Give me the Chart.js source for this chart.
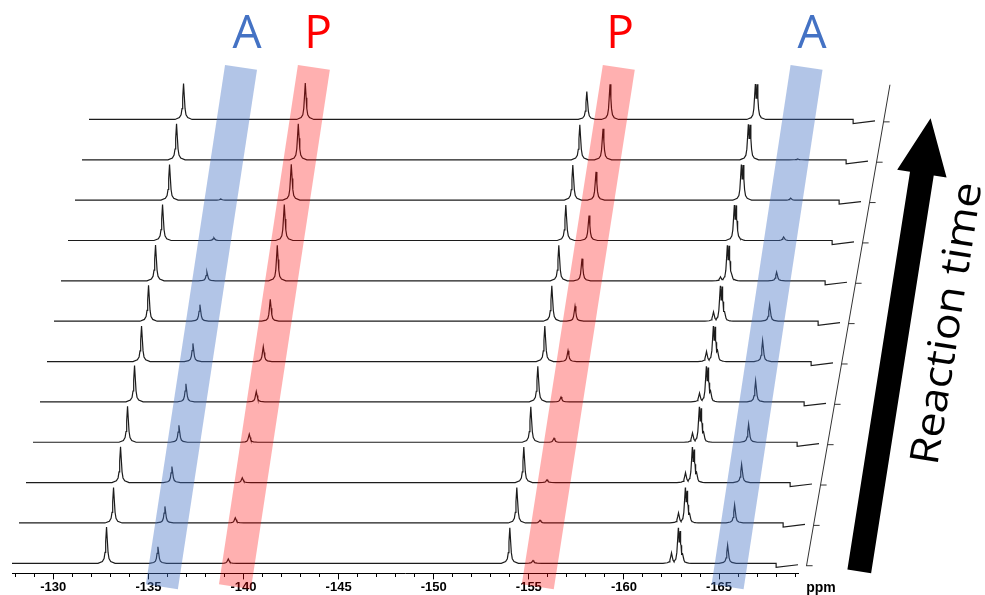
<!DOCTYPE html>
<html>
<head>
<meta charset="utf-8">
<script src="https://cdn.jsdelivr.net/npm/chart.js@4.4.0/dist/chart.umd.min.js"></script>
<style>
  html, body { margin: 0; padding: 0; background: #fff; }
  #wrap { width: 985px; height: 595px; }
</style>
</head>
<body>
<div id="wrap"><canvas id="nmr" width="985" height="595"></canvas></div>
<script>
// spectra stacked in order of reaction time, bottom (first) to top (last)
const traceCount = 12;
const ppmStart = -127.83;
const ppmEnd = -169.15;
const ppmStep = -168.0;      // little baseline step at the right end of each spectrum
const traceShift = 0.368;    // ppm each spectrum is pushed right per row

// peaks: chemical shift (ppm) and height of each peak in every spectrum (row units)
const peakShifts = [-132.8, -135.5, -139.2, -154.0, -155.22, -162.5, -162.86, -162.95, -163.08, -165.45];
const hF1 = [0.90, 0.88, 0.89, 0.89, 0.90, 0.88, 0.89, 0.89, 0.89, 0.88, 0.89, 0.89];
const hA1 = [0.41, 0.41, 0.40, 0.42, 0.45, 0.45, 0.41, 0.22, 0.07, 0.03, 0, 0];
const hP1 = [0.11, 0.13, 0.12, 0.20, 0.26, 0.37, 0.54, 0.88, 0.89, 0.89, 0.89, 0.90];
const hF2 = [0.88, 0.88, 0.88, 0.88, 0.88, 0.88, 0.88, 0.88, 0.88, 0.87, 0.87, 0.69];
const hP2 = [0.07, 0.07, 0.07, 0.10, 0.12, 0.27, 0.37, 0.55, 0.62, 0.70, 0.77, 0.87];
const hD  = [0.26, 0.25, 0.25, 0.23, 0.22, 0.25, 0.23, 0.10, 0, 0, 0, 0];
const hC1 = [0.88, 0.88, 0.88, 0.88, 0.88, 0.88, 0.88, 0.88, 0.88, 0.88, 0.88, 0.88];
const hC2 = [0.80, 0.80, 0.82, 0.84, 0.85, 0.86, 0.86, 0.87, 0.87, 0.87, 0.87, 0.87];
const hC3 = [0.24, 0.24, 0.26, 0.26, 0.28, 0.28, 0.24, 0.18, 0.10, 0, 0, 0];
const hA2 = [0.45, 0.45, 0.45, 0.45, 0.52, 0.52, 0.41, 0.22, 0.09, 0.05, 0.02, 0];
const peakHeights = [hF1, hA1, hP1, hF2, hP2, hD, hC1, hC2, hC3, hA2];

// x axis ticks
const axisTicks = [];
for (let v = -128; v >= -169; v--) axisTicks.push(v);
const majorTicks = [-130, -135, -140, -145, -150, -155, -160, -165];

// highlight bands: ppm of left edge at top and at bottom, labels
const bandLabels = ['A', 'P', 'P', 'A'];
const bandTopPpm = [-139.03, -142.86, -158.89, -168.76];
const bandBottomPpm = [-134.87, -138.71, -154.63, -164.61];
const bandLabelPpm = [-140.19, -143.92, -159.80, -169.89];
const bandColors = ['rgba(68,114,196,0.41)', 'rgba(255,0,0,0.31)', 'rgba(255,0,0,0.31)', 'rgba(68,114,196,0.41)'];
const labelColors = ['#4472C4', '#FF0000', '#FF0000', '#4472C4'];

// lineshape used for every peak: [distance in ppm, fraction of height]
const peakShape = [[0, 1], [0.045, 0.6], [0.08, 0.3], [0.13, 0.13], [0.22, 0.05], [0.45, 0]];

function shapeAt(d) {
    d = Math.abs(d);
    for (let i = 1; i < peakShape.length; i++) {
        if (d <= peakShape[i][0]) {
            const [d0, f0] = peakShape[i - 1];
            const [d1, f1] = peakShape[i];
            return f0 + (f1 - f0) * (d - d0) / (d1 - d0);
        }
    }
    return 0;
}

function buildTrace(k) {
    let xs = [ppmStart, ppmStep];
    peakShifts.forEach((p, j) => {
        if (peakHeights[j][k] <= 0) return;
        peakShape.forEach(([d]) => { xs.push(p - d); xs.push(p + d); });
    });
    xs = [...new Set(xs)].filter(x => x <= ppmStart && x >= ppmStep).sort((a, b) => b - a);
    const pts = xs.map(x => {
        let y = 0;
        peakShifts.forEach((p, j) => {
            const h = peakHeights[j][k];
            if (h > 0) y = Math.max(y, h * shapeAt(x - p));
        });
        return { x: x - traceShift * k, y: k + y };
    });
    pts.push({ x: ppmStep - traceShift * k, y: k - 0.1 });
    pts.push({ x: ppmEnd - traceShift * k, y: k - 0.035 });
    return pts;
}

const datasets = [];
for (let k = 0; k < traceCount; k++) {
    datasets.push({
        data: buildTrace(k),
        showLine: true,
        borderColor: '#1c1c1c',
        borderWidth: 1.2,
        pointRadius: 0,
        clip: false
    });
}

// slanted time axis on the right
const zAxisPpm = -169.62;
const zAxisRange = [-0.07, 11.86];
datasets.push({
    data: zAxisRange.map(y => ({ x: zAxisPpm - traceShift * y, y: y })),
    showLine: true, borderColor: '#333', borderWidth: 1, pointRadius: 0, clip: false
});
for (let k = 0; k < traceCount; k++) {
    const y = k - 0.06;
    const x0 = zAxisPpm - traceShift * y;
    datasets.push({
        data: [{ x: x0, y: y }, { x: x0 - 0.32, y: y }],
        showLine: true, borderColor: '#333', borderWidth: 1, pointRadius: 0, clip: false
    });
}

const decor = {
    id: 'decor',
    afterDraw(chart) {
        const { ctx, scales: { x, y } } = chart;
        const px = v => x.getPixelForValue(v);
        const py = v => y.getPixelForValue(v);
        ctx.save();
        // bands
        bandTopPpm.forEach((t, i) => {
            const b = bandBottomPpm[i];
            const w = 1.68;
            ctx.beginPath();
            ctx.moveTo(px(t), py(12.35));
            ctx.lineTo(px(t - w), py(12.23));
            ctx.lineTo(px(b - w), py(-0.64));
            ctx.lineTo(px(b), py(-0.52));
            ctx.closePath();
            ctx.fillStyle = bandColors[i];
            ctx.fill();
            ctx.fillStyle = labelColors[i];
            ctx.font = '46px "Open Sans"';
            ctx.textAlign = 'center';
            ctx.textBaseline = 'middle';
            ctx.fillText(bandLabels[i], px(bandLabelPpm[i]), py(13.14) + 2);
        });

        // ppm label
        ctx.fillStyle = '#000';
        ctx.font = 'bold 14px "Liberation Sans"';
        ctx.textAlign = 'center';
        ctx.textBaseline = 'middle';
        ctx.fillText('ppm', px(-170.36), py(-0.62));

        // reaction time arrow
        const x1 = px(-172.37), y1 = py(-0.2);
        const x2 = px(-176.12), y2 = py(11.03);
        const ang = Math.atan2(y2 - y1, x2 - x1);
        const len = Math.hypot(x2 - x1, y2 - y1);
        ctx.translate(x1, y1);
        ctx.rotate(ang);
        ctx.beginPath();
        ctx.moveTo(0, -12);
        ctx.lineTo(len - 56, -12);
        ctx.lineTo(len - 56, -25);
        ctx.lineTo(len, 0);
        ctx.lineTo(len - 56, 25);
        ctx.lineTo(len - 56, 12);
        ctx.lineTo(0, 12);
        ctx.closePath();
        ctx.fillStyle = '#000';
        ctx.fill();
        ctx.setTransform(1, 0, 0, 1, 0, 0);

        // text
        ctx.translate(px(-177.05), py(5.94));
        ctx.rotate(ang);
        ctx.font = '40px "Open Sans"';
        const tw = ctx.measureText('Reaction time').width;
        ctx.scale(285 / tw, 1);
        ctx.fillStyle = '#000';
        ctx.textAlign = 'center';
        ctx.textBaseline = 'middle';
        ctx.fillText('Reaction time', 0, 0);
        ctx.restore();
    }
};

new Chart(document.getElementById('nmr'), {
    type: 'scatter',
    data: { datasets: datasets },
    options: {
        responsive: false,
        animation: false,
        layout: { padding: { left: 12, right: 187, top: 0, bottom: 0 } },
        plugins: { legend: { display: false }, tooltip: { enabled: false } },
        scales: {
            x: {
                type: 'linear',
                reverse: true,
                min: ppmEnd,
                max: ppmStart,
                afterBuildTicks: scale => { scale.ticks = axisTicks.map(v => ({ value: v })); },
                ticks: {
                    autoSkip: false,
                    maxRotation: 0,
                    padding: 0,
                    color: '#000',
                    font: { family: 'Liberation Sans', size: 13, weight: 'bold' },
                    callback: v => majorTicks.includes(v) ? String(v) : ''
                },
                grid: {
                    drawOnChartArea: false,
                    drawTicks: true,
                    tickLength: 6,
                    tickColor: '#000',
                    tickBorderDash: c => majorTicks.includes(c.tick && c.tick.value) ? [] : [3, 20]
                },
                border: { display: true, color: '#000', width: 1 }
            },
            y: { display: false, min: -0.25, max: 13.96 }
        }
    },
    plugins: [decor]
});
</script>
</body>
</html>
